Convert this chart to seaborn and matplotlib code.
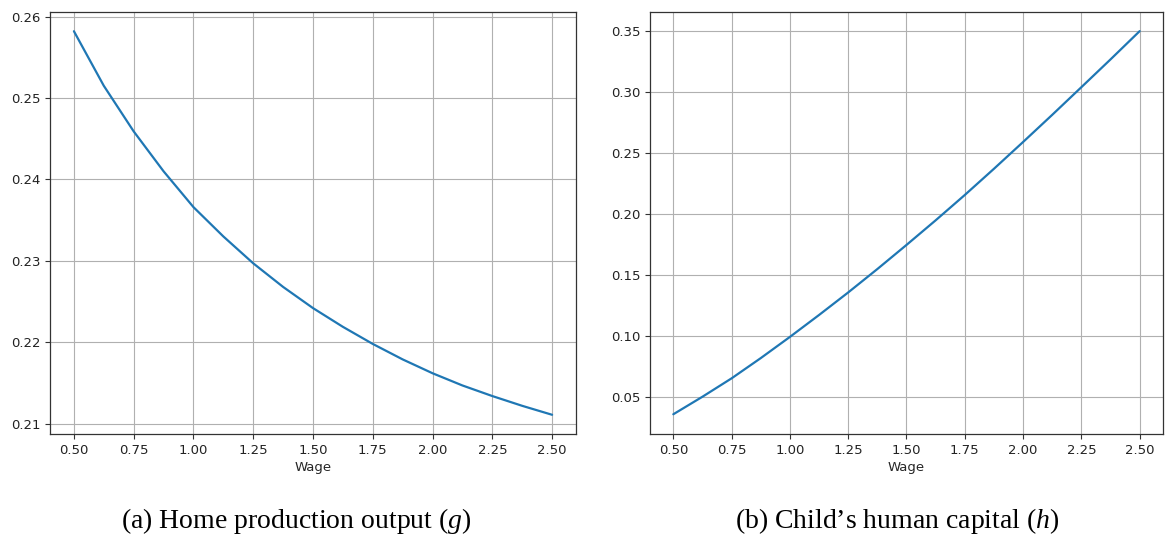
import matplotlib
matplotlib.use("Agg")
import matplotlib.pyplot as plt
import seaborn as sns
import pandas as pd

# Wage grid and model outputs
wage = [0.5, 0.625, 0.75, 0.875, 1.0, 1.125, 1.25, 1.375, 1.5,
        1.625, 1.75, 1.875, 2.0, 2.125, 2.25, 2.375, 2.5]
home_output = [0.2582, 0.2515, 0.2459, 0.2410, 0.2366, 0.2330, 0.2297, 0.2268, 0.2242,
               0.2219, 0.2198, 0.2179, 0.2162, 0.2147, 0.2134, 0.2122, 0.2111]
human_capital = [0.0355, 0.0499, 0.0650, 0.0816, 0.0990, 0.1170, 0.1355, 0.1547, 0.1745,
                 0.1947, 0.2155, 0.2370, 0.2590, 0.2813, 0.3040, 0.3268, 0.3500]

x_ticks = [0.5, 0.75, 1.0, 1.25, 1.5, 1.75, 2.0, 2.25, 2.5]
left_yticks = [0.21, 0.22, 0.23, 0.24, 0.25, 0.26]
right_yticks = [0.05, 0.10, 0.15, 0.20, 0.25, 0.30, 0.35]
captions = ["(a) Home production output ($g$)", "(b) Child\u2019s human capital ($h$)"]

sns.set_style("ticks")
plt.rcParams["font.family"] = ["DejaVu Sans"]
plt.rcParams["mathtext.fontset"] = "custom"
plt.rcParams["mathtext.it"] = "Liberation Serif:italic"
plt.rcParams["mathtext.rm"] = "Liberation Serif"

df = pd.DataFrame({"Wage": wage, "g": home_output, "h": human_capital})

fig = plt.figure(figsize=(11.65, 5.39), dpi=100)
W, H = 1165, 539
ax1 = fig.add_axes([50 / W, (H - 434) / H, 526 / W, 422 / H])
ax2 = fig.add_axes([650 / W, (H - 434) / H, 513 / W, 422 / H])

for ax, col, yt in [(ax1, "g", left_yticks), (ax2, "h", right_yticks)]:
    sns.lineplot(data=df, x="Wage", y=col, ax=ax, color="#1f77b4", linewidth=1.6)
    ax.set_xticks(x_ticks)
    ax.set_xticklabels([f"{v:.2f}" for v in x_ticks])
    ax.set_yticks(yt)
    ax.set_yticklabels([f"{v:.2f}" for v in yt])
    ax.set_ylabel("")
    ax.set_xlabel("Wage", fontsize=9.5, labelpad=3)
    ax.tick_params(labelsize=9.5, length=3.5, width=0.8, color="#333333", labelcolor="#222222")
    ax.grid(True, color="#b0b0b0", linewidth=0.8)
    for s in ax.spines.values():
        s.set_visible(True)
        s.set_color("#333333")
        s.set_linewidth(0.9)

ax1.set_xlim(0.4, 2.6)
ax2.set_xlim(0.4, 2.6)
ax1.set_ylim(0.20874, 0.26056)
ax2.set_ylim(0.0193, 0.3657)

fig.text(296 / W, 1 - 521 / H, captions[0], family="Liberation Serif", fontsize=20,
         ha="center", va="center", color="black")
fig.text(897 / W, 1 - 521 / H, captions[1], family="Liberation Serif", fontsize=20,
         ha="center", va="center", color="black")

fig.savefig("out.png", dpi=100)
